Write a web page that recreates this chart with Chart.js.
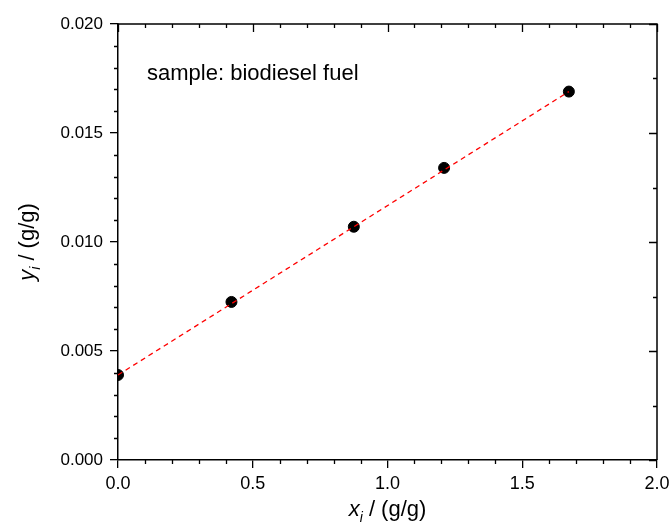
<!DOCTYPE html>
<html>
<head>
<meta charset="utf-8">
<script src="https://cdn.jsdelivr.net/npm/chart.js@4"></script>
<style>
  html, body { margin: 0; padding: 0; background: #fff; }
  #wrap { width: 671px; height: 529px; }
</style>
</head>
<body>
<div id="wrap"><canvas id="c" width="671" height="529"></canvas></div>
<script>
// ---- data ----
const sampleX = [0.0, 0.421, 0.875, 1.21, 1.673];
const sampleY = [0.0039, 0.00725, 0.0107, 0.0134, 0.0169];
const fitX = [0.0, 1.673];
const fitY = [0.0039, 0.0169];
const xTicks = [0.0, 0.5, 1.0, 1.5, 2.0];
const yTicks = [0.000, 0.005, 0.010, 0.015, 0.020];
const annotation = 'sample: biodiesel fuel';
const xTitle = ['x', 'i', ' / (g/g)'];
const yTitle = ['y', 'i', ' / (g/g)'];

const FONT = '"Liberation Sans", Arial, sans-serif';

const extras = {
  id: 'extras',
  afterDraw(chart) {
    const ctx = chart.ctx;
    const xs = chart.scales.x, ys = chart.scales.y;
    const a = chart.chartArea;
    ctx.save();
    ctx.strokeStyle = '#000';
    ctx.lineWidth = 1.3;
    ctx.beginPath();
    // bottom minor ticks (outside) and top ticks (inside)
    for (let i = 0; i <= 20; i++) {
      const v = i * 0.1;
      const px = Math.round(xs.getPixelForValue(v)) + 0.5;
      const major = i % 5 === 0;
      if (!major) { ctx.moveTo(px, a.bottom); ctx.lineTo(px, a.bottom + 4); }
      ctx.moveTo(px, a.top); ctx.lineTo(px, a.top + (major ? 8 : 4));
    }
    // left minor ticks (outside)
    for (let i = 0; i <= 20; i++) {
      const v = i * 0.001;
      if (i % 5 === 0) continue;
      const py = Math.round(ys.getPixelForValue(v)) + 0.5;
      ctx.moveTo(a.left, py); ctx.lineTo(a.left - 4, py);
    }
    // right ticks (inside)
    for (let i = 0; i <= 8; i++) {
      const v = i * 0.0025;
      const py = Math.round(ys.getPixelForValue(v)) + 0.5;
      const major = i % 2 === 0;
      ctx.moveTo(a.right, py); ctx.lineTo(a.right - (major ? 8 : 4), py);
    }
    ctx.stroke();
    // frame top & right
    ctx.lineWidth = 1.5;
    ctx.beginPath();
    ctx.moveTo(a.left, a.top); ctx.lineTo(a.right, a.top); ctx.lineTo(a.right, a.bottom);
    ctx.stroke();

    ctx.fillStyle = '#000';
    // annotation
    ctx.font = '22px ' + FONT;
    ctx.textBaseline = 'alphabetic';
    ctx.textAlign = 'left';
    ctx.fillText(annotation, 147, 80);

    function drawTitle(parts, size) {
      const mainFont = 'italic ' + size + 'px ' + FONT;
      const subFont = 'italic ' + Math.round(size * 0.65) + 'px ' + FONT;
      const restFont = size + 'px ' + FONT;
      ctx.font = mainFont; const w1 = ctx.measureText(parts[0]).width;
      ctx.font = subFont; const w2 = ctx.measureText(parts[1]).width;
      ctx.font = restFont; const w3 = ctx.measureText(parts[2]).width;
      const total = w1 + w2 + w3;
      let x = -total / 2;
      ctx.font = mainFont; ctx.fillText(parts[0], x, 0); x += w1;
      ctx.font = subFont; ctx.fillText(parts[1], x, size * 0.25); x += w2;
      ctx.font = restFont; ctx.fillText(parts[2], x, 0);
    }
    // x title
    ctx.save();
    ctx.translate((a.left + a.right) / 2, 516);
    drawTitle(xTitle, 22);
    ctx.restore();
    // y title
    ctx.save();
    ctx.translate(34, (a.top + a.bottom) / 2);
    ctx.rotate(-Math.PI / 2);
    drawTitle(yTitle, 22);
    ctx.restore();

    ctx.restore();
  }
};

new Chart(document.getElementById('c'), {
  type: 'scatter',
  data: {
    datasets: [
      {
        type: 'line',
        data: fitX.map((x, i) => ({ x, y: fitY[i] })),
        borderColor: '#ff0000',
        borderWidth: 1.3,
        borderDash: [5, 4],
        pointRadius: 0,
        fill: false,
        order: 0
      },
      {
        data: sampleX.map((x, i) => ({ x, y: sampleY[i] })),
        backgroundColor: '#000',
        borderColor: '#000',
        pointRadius: 5.5,
        borderWidth: 1,
        order: 1
      }
    ]
  },
  options: {
    responsive: false,
    animation: false,
    devicePixelRatio: 1,
    layout: { padding: { left: 0, right: 14, top: 24, bottom: 0 } },
    plugins: { legend: { display: false }, tooltip: { enabled: false } },
    scales: {
      x: {
        type: 'linear', min: 0, max: 2.0,
        afterFit(s) { s.height = 69; s.paddingRight = 0; s.paddingLeft = 0; },
        afterBuildTicks(s) { s.ticks = xTicks.map(v => ({ value: v })); },
        ticks: {
          padding: 5, color: '#000',
          font: { family: FONT, size: 18 },
          callback: v => Number(v).toFixed(1)
        },
        grid: { drawOnChartArea: false, drawTicks: true, tickLength: 8, color: '#000', lineWidth: 1.3 },
        border: { display: true, color: '#000', width: 1.5 }
      },
      y: {
        type: 'linear', min: 0, max: 0.020,
        afterFit(s) { s.width = 118; s.paddingTop = 0; s.paddingBottom = 0; },
        afterBuildTicks(s) { s.ticks = yTicks.map(v => ({ value: v })); },
        ticks: {
          padding: 7, color: '#000',
          font: { family: FONT, size: 17 },
          callback: v => Number(v).toFixed(3)
        },
        grid: { drawOnChartArea: false, drawTicks: true, tickLength: 8, color: '#000', lineWidth: 1.3 },
        border: { display: true, color: '#000', width: 1.5 }
      }
    }
  },
  plugins: [extras]
});
</script>
</body>
</html>
